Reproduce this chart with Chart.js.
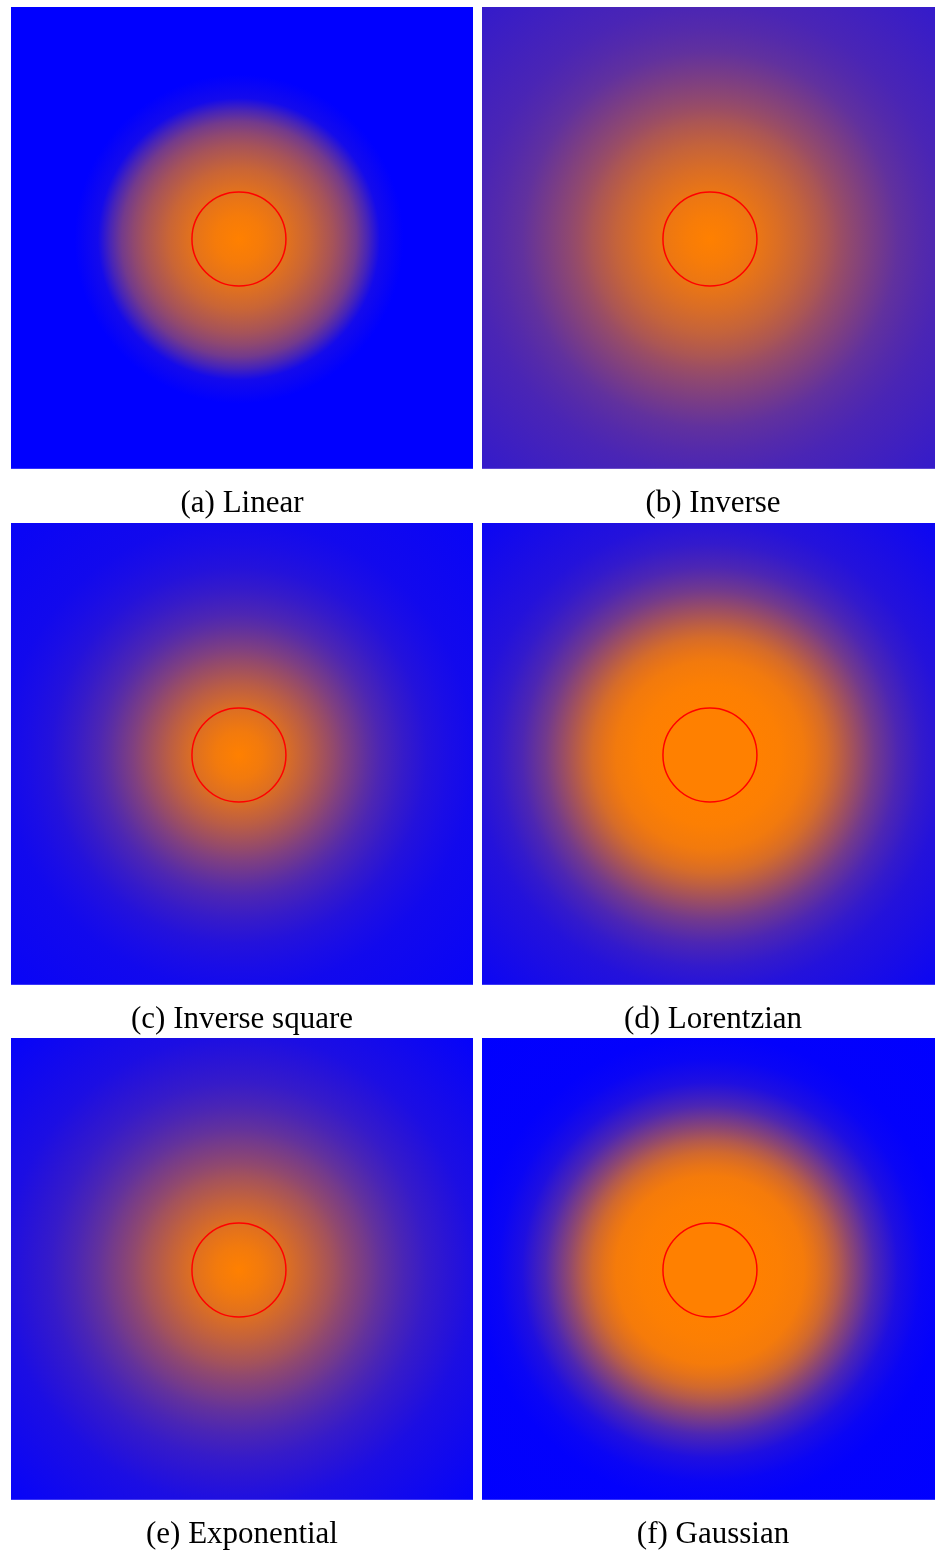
<!DOCTYPE html>
<html>
<head>
<meta charset="utf-8">
<script src="https://cdn.jsdelivr.net/npm/chart.js@4"></script>
<style>
  html, body { margin: 0; padding: 0; background: #fff; overflow: hidden; }
  body { width: 935px; height: 1550px; position: relative; }
  .panel { position: absolute; width: 462px; height: 516px; }
</style>
</head>
<body>
<div class="panel" style="left:11px;top:7px"><canvas id="c0"></canvas></div>
<div class="panel" style="left:482px;top:7px"><canvas id="c1"></canvas></div>
<div class="panel" style="left:11px;top:523px"><canvas id="c2"></canvas></div>
<div class="panel" style="left:482px;top:523px"><canvas id="c3"></canvas></div>
<div class="panel" style="left:11px;top:1038px"><canvas id="c4"></canvas></div>
<div class="panel" style="left:482px;top:1038px"><canvas id="c5"></canvas></div>
<script>
// distance from the centre, in units of the red circle's radius
const radii = [0, 0.5, 1, 1.5, 2, 2.25, 2.5, 2.75, 3, 3.5, 4, 4.5, 5, 7];

// share of orange at each radius (1 = orange, 0 = blue)
const linearShare      = [1, 0.96, 0.89, 0.79, 0.65, 0.56, 0.45, 0.28, 0.08, 0, 0, 0, 0, 0];
const inverseShare     = [1, 0.97, 0.92, 0.85, 0.77, 0.72, 0.67, 0.61, 0.56, 0.47, 0.38, 0.33, 0.29, 0.2];
const invSquareShare   = [1, 0.95, 0.86, 0.73, 0.58, 0.5, 0.43, 0.36, 0.3, 0.21, 0.14, 0.1, 0.07, 0.03];
const lorentzianShare  = [1, 1, 1, 0.99, 0.95, 0.9, 0.84, 0.75, 0.65, 0.45, 0.3, 0.2, 0.14, 0.04];
const exponentialShare = [1, 0.95, 0.87, 0.76, 0.64, 0.57, 0.51, 0.45, 0.39, 0.29, 0.21, 0.16, 0.11, 0.02];
const gaussianShare    = [1, 1, 1, 0.99, 0.96, 0.9, 0.82, 0.7, 0.56, 0.3, 0.12, 0.04, 0.01, 0];

const captions = ["(a) Linear", "(b) Inverse", "(c) Inverse square",
                  "(d) Lorentzian", "(e) Exponential", "(f) Gaussian"];
const shares = [linearShare, inverseShare, invSquareShare,
                lorentzianShare, exponentialShare, gaussianShare];

const circleCentre = [{ x: 0, y: 0 }];
const circleRadius = 1;

const ORANGE = [255, 128, 0];
const BLUE = [0, 0, 255];

function mix(t) {
  const c = ORANGE.map((o, i) => Math.round(o * t + BLUE[i] * (1 - t)));
  return "rgb(" + c.join(",") + ")";
}

// paints the falloff field behind the circle, using the chart's scales
const fieldPlugin = {
  id: "field",
  beforeDatasetsDraw(chart, args, opts) {
    const { ctx, chartArea, scales } = chart;
    const cx = scales.x.getPixelForValue(0);
    const cy = scales.y.getPixelForValue(0);
    const rMax = radii[radii.length - 1];
    const rPx = scales.x.getPixelForValue(rMax) - cx;
    const grad = ctx.createRadialGradient(cx, cy, 0, cx, cy, rPx);
    radii.forEach((r, i) => grad.addColorStop(r / rMax, mix(opts.share[i])));
    ctx.save();
    ctx.fillStyle = grad;
    ctx.fillRect(chartArea.left, chartArea.top,
                 chartArea.right - chartArea.left, chartArea.bottom - chartArea.top);
    ctx.restore();
  }
};

captions.forEach((caption, i) => {
  new Chart(document.getElementById("c" + i), {
    type: "scatter",
    data: {
      datasets: [{
        data: circleCentre,
        pointRadius: (c) => c.chart.scales.x.getPixelForValue(circleRadius) -
                            c.chart.scales.x.getPixelForValue(0),
        pointHoverRadius: (c) => c.chart.scales.x.getPixelForValue(circleRadius) -
                                 c.chart.scales.x.getPixelForValue(0),
        backgroundColor: "rgba(0,0,0,0)",
        borderColor: "#ff0000",
        borderWidth: 1.5,
        clip: false
      }]
    },
    options: {
      responsive: true,
      maintainAspectRatio: false,
      animation: false,
      events: [],
      layout: { padding: 0 },
      scales: {
        x: { type: "linear", min: -4.85, max: 4.98, display: false },
        y: { type: "linear", min: -4.89, max: 4.94, display: false }
      },
      plugins: {
        legend: { display: false },
        tooltip: { enabled: false },
        field: { share: shares[i] },
        title: {
          display: true,
          text: caption,
          position: "bottom",
          color: "#000",
          font: { family: "'Liberation Serif', serif", size: 31, weight: "normal", lineHeight: 1.2 },
          padding: { top: 16, bottom: 1 }
        }
      }
    },
    plugins: [fieldPlugin]
  });
});
</script>
</body>
</html>
